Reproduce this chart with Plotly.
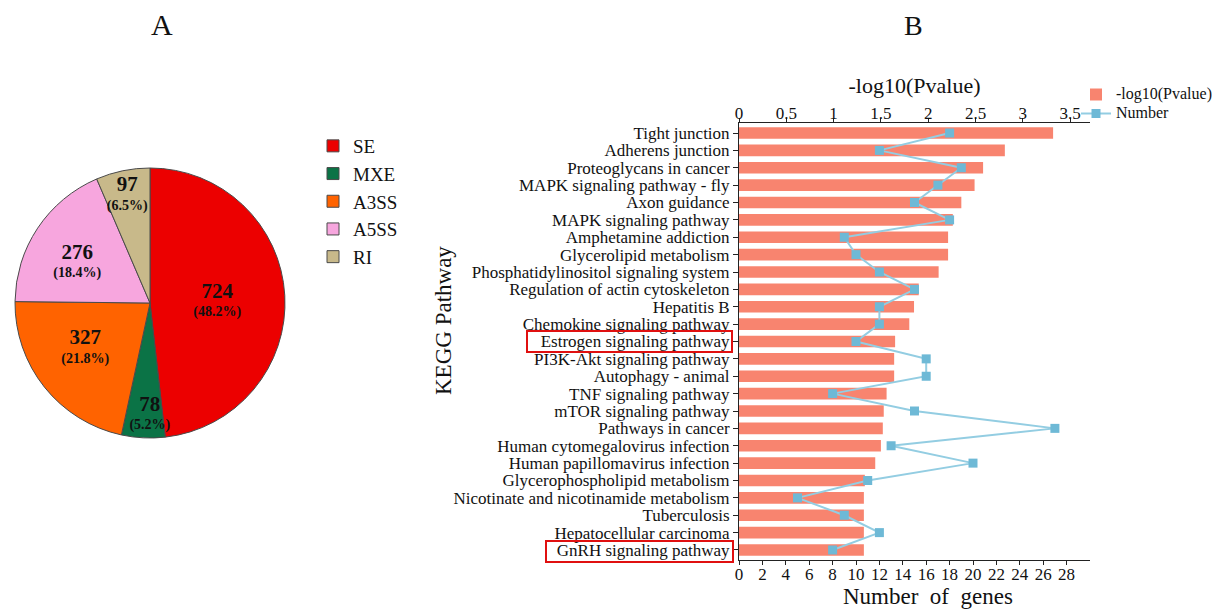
import plotly.graph_objects as go

W, H = 1227, 609

# ---------------- data ----------------
splice_types = ["SE", "MXE", "A3SS", "A5SS", "RI"]
splice_counts = [724, 78, 327, 276, 97]
splice_colors = ["#EC0000", "#0B7346", "#FF6300", "#F7A6DE", "#C8B98A"]

pathways = [
    "Tight junction", "Adherens junction", "Proteoglycans in cancer",
    "MAPK signaling pathway - fly", "Axon guidance", "MAPK signaling pathway",
    "Amphetamine addiction", "Glycerolipid metabolism",
    "Phosphatidylinositol signaling system", "Regulation of actin cytoskeleton",
    "Hepatitis B", "Chemokine signaling pathway", "Estrogen signaling pathway",
    "PI3K-Akt signaling pathway", "Autophagy - animal", "TNF signaling pathway",
    "mTOR signaling pathway", "Pathways in cancer",
    "Human cytomegalovirus infection", "Human papillomavirus infection",
    "Glycerophospholipid metabolism", "Nicotinate and nicotinamide metabolism",
    "Tuberculosis", "Hepatocellular carcinoma", "GnRH signaling pathway",
]
neg_log10_p = [3.32, 2.81, 2.58, 2.49, 2.35, 2.26, 2.21, 2.21, 2.11, 1.90,
               1.85, 1.80, 1.65, 1.64, 1.64, 1.56, 1.53, 1.52, 1.50, 1.44,
               1.33, 1.32, 1.32, 1.32, 1.32]
gene_numbers = [18, 12, 19, 17, 15, 18, 9, 10, 12, 15, 12, 12, 10, 16, 16,
                8, 15, 27, 13, 20, 11, 5, 9, 12, 8]

top_ticks = [0, 0.5, 1, 1.5, 2, 2.5, 3, 3.5]
top_ticktext = ["0", "0.5", "1", "1.5", "2", "2.5", "3", "3.5"]
bottom_ticks = list(range(0, 29, 2))

FONT = "Liberation Serif"


def px_x(v):
    return v / W


def px_y(v):
    return 1 - v / H


fig = go.Figure()

# ---------------- pie (A) ----------------
base_tpl = "<b><span style='font-size:21px'>%{value}</span></b><br><b>(%{percent:.1%})</b>"
slice_tpl = [base_tpl, base_tpl + "<br> ", base_tpl + "<br> ", " <br>" + base_tpl, base_tpl]

fig.add_trace(go.Pie(
    labels=splice_types, values=splice_counts, sort=False,
    direction="clockwise", rotation=0,
    marker=dict(colors=splice_colors, line=dict(color="#4a4a4a", width=1)),
    texttemplate=slice_tpl,
    textposition="inside", insidetextorientation="horizontal",
    textfont=dict(family=FONT, size=14, color="#111"),
    domain=dict(x=[px_x(12), px_x(288)], y=[px_y(438), px_y(168)]),
    legend="legend", hoverinfo="label+value+percent",
))

# ---------------- bar + line (B) ----------------
fig.add_trace(go.Bar(
    x=neg_log10_p, y=pathways, orientation="h",
    name="<span style='font-size:16px'>-log10(Pvalue)</span>",
    marker=dict(color="#F8846F"), width=0.67,
    xaxis="x", yaxis="y", legend="legend2",
))
fig.add_trace(go.Scatter(
    x=gene_numbers, y=pathways, mode="lines+markers",
    name="<span style='font-size:16px'>Number</span>",
    line=dict(color="#93CDE2", width=2),
    marker=dict(symbol="square", size=9, color="#6EB9D6"),
    xaxis="x2", yaxis="y", legend="legend2",
))

x_dom = [px_x(739), px_x(1090)]
y_dom = [px_y(560), px_y(123)]

fig.update_layout(
    template="none",
    width=W, height=H,
    margin=dict(l=0, r=0, t=0, b=0, autoexpand=False),
    paper_bgcolor="white", plot_bgcolor="white",
    font=dict(family=FONT, color="#111"),
    uniformtext=dict(minsize=14, mode="show"),
    xaxis=dict(
        domain=x_dom, side="top", anchor="y", range=[0, 3.71],
        tickvals=top_ticks, ticktext=top_ticktext, automargin=False,
        showline=True, linecolor="#222", linewidth=1,
        ticks="outside", ticklen=4, tickcolor="#222", ticklabelstandoff=-8,
        showgrid=False, zeroline=False,
        tickfont=dict(size=17, family=FONT),
        title=dict(text="-log10(Pvalue)", font=dict(size=22, family=FONT), standoff=4),
    ),
    xaxis2=dict(
        domain=x_dom, side="bottom", anchor="y", overlaying="x", range=[0, 30],
        tickvals=bottom_ticks, automargin=False,
        showline=True, linecolor="#222", linewidth=1,
        ticks="outside", ticklen=4, tickcolor="#222", ticklabelstandoff=-5,
        showgrid=False, zeroline=False,
        tickfont=dict(size=17, family=FONT),
    ),
    yaxis=dict(
        domain=y_dom, anchor="x", type="category",
        categoryorder="array", categoryarray=pathways,
        tickmode="array", tickvals=pathways, automargin=False,
        range=[24.576, -0.576],
        showline=True, linecolor="#222", linewidth=1,
        ticks="outside", ticklen=5, tickcolor="#222",
        showgrid=False, zeroline=False,
        tickfont=dict(size=17, family=FONT),
    ),
    legend=dict(
        x=px_x(313), y=px_y(127), xanchor="left", yanchor="top",
        font=dict(size=19, family=FONT), bgcolor="rgba(0,0,0,0)",
        traceorder="normal",
    ),
    legend2=dict(
        x=px_x(1076), y=px_y(80), xanchor="left", yanchor="top",
        font=dict(size=11, family=FONT), bgcolor="rgba(0,0,0,0)",
        traceorder="normal",
    ),
    annotations=[
        dict(text="A", x=px_x(162), y=px_y(25), xref="paper", yref="paper",
             showarrow=False, font=dict(size=30, family=FONT),
             xanchor="center", yanchor="middle"),
        dict(text="B", x=px_x(913), y=px_y(26), xref="paper", yref="paper",
             showarrow=False, font=dict(size=28, family=FONT),
             xanchor="center", yanchor="middle"),
        dict(text="KEGG Pathway", x=px_x(443), y=px_y(321), xref="paper", yref="paper",
             showarrow=False, textangle=-90, font=dict(size=23, family=FONT),
             xanchor="center", yanchor="middle"),
        dict(text="Number  of  genes", x=px_x(928), y=px_y(596), xref="paper", yref="paper",
             showarrow=False, font=dict(size=23, family=FONT),
             xanchor="center", yanchor="middle"),
    ],
    shapes=[
        dict(type="rect", xref="paper", yref="paper",
             x0=px_x(527), x1=px_x(732), y0=px_y(352), y1=px_y(331),
             line=dict(color="#E01010", width=2)),
        dict(type="rect", xref="paper", yref="paper",
             x0=px_x(546), x1=px_x(733), y0=px_y(562), y1=px_y(541),
             line=dict(color="#E01010", width=2)),
    ],
)

fig.write_html("out.html",
               config={"displayModeBar": False},
               post_script="document.body.style.margin='0';document.body.style.padding='0';")
